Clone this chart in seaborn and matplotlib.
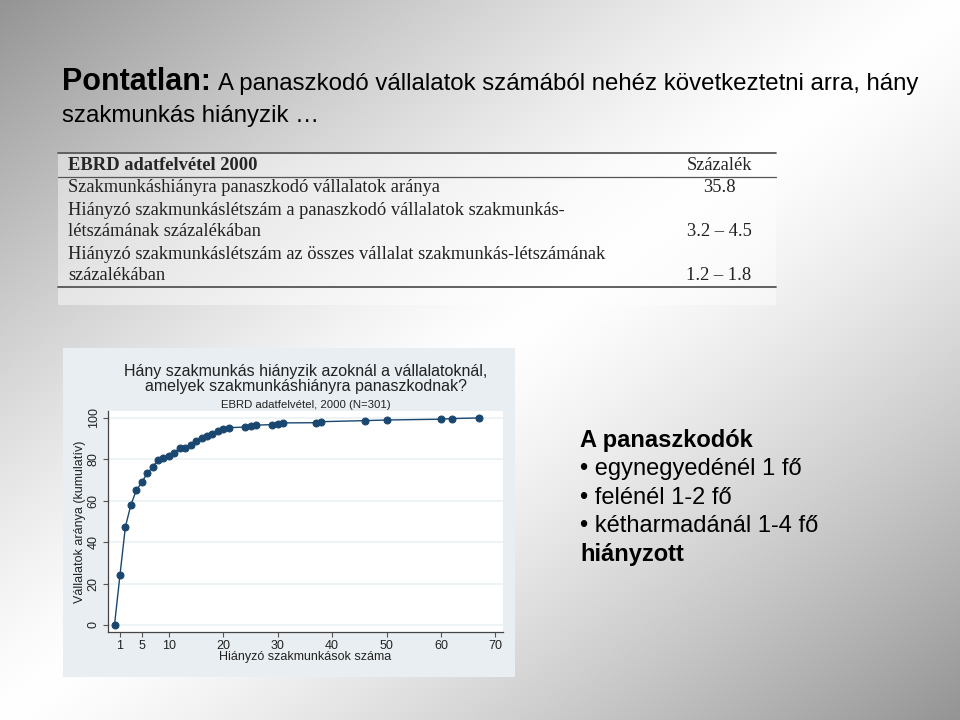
import numpy as np
import pandas as pd
import matplotlib
matplotlib.use("Agg")
import matplotlib.pyplot as plt
import seaborn as sns
from matplotlib.patches import Rectangle
from matplotlib.lines import Line2D

# ---------------- data ----------------
missing_workers = [0, 1, 2, 3, 4, 5, 6, 7, 8, 9, 10, 11, 12, 13, 14, 15, 16, 17, 18, 19, 20, 21,
                   24, 25, 26, 29, 30, 31, 37, 38, 46, 50, 60, 62, 67]
cumulative_share = [0, 24.0, 47.4, 57.9, 65.0, 68.9, 73.2, 76.1, 79.8, 80.5, 81.5, 83.2, 85.5, 85.5,
                    87.1, 88.7, 90.5, 91.3, 92.4, 93.5, 94.5, 95.3, 95.6, 96.1, 96.5, 96.8, 97.3,
                    97.6, 97.7, 98.2, 98.7, 99.0, 99.4, 99.7, 100.0]
x_ticks = [1, 5, 10, 20, 30, 40, 50, 60, 70]
y_ticks = [0, 20, 40, 60, 80, 100]

table_rows = [
    ("Szakmunkáshiányra panaszkodó vállalatok aránya", "35.8"),
    ("Hiányzó szakmunkáslétszám a panaszkodó vállalatok szakmunkás-", ""),
    ("létszámának százalékában", "3.2 – 4.5"),
    ("Hiányzó szakmunkáslétszám az összes vállalat szakmunkás-létszámának", ""),
    ("százalékában", "1.2 – 1.8"),
]
bullets = ["• egynegyedénél 1 fő", "• felénél 1-2 fő", "• kétharmadánál 1-4 fő"]

W, H = 960, 720
sns.set_style("white")
plt.rcParams["font.family"] = ["Liberation Sans", "DejaVu Sans"]

fig = plt.figure(figsize=(W / 100, H / 100), dpi=100)

def fx(px):
    return px / W

def fy(py):
    return 1 - py / H

# ---------------- background gradient ----------------
bg = fig.add_axes([0, 0, 1, 1], zorder=-10)
u = np.linspace(0, 1, W)[None, :]
v = np.linspace(0, 1, H)[:, None]
s = np.abs(u * 1.0 + v * 1.0 - 1.0)
gray = 1.0 - 0.42 * s ** 1.3
img = np.dstack([gray, gray, gray])
bg.imshow(img, aspect="auto", extent=[0, 1, 0, 1], origin="upper")
bg.set_xlim(0, 1)
bg.set_ylim(0, 1)
bg.axis("off")

# ---------------- slide title ----------------
t1 = fig.text(fx(62), fy(82), "Pontatlan:", fontsize=22, fontweight="bold", va="center", ha="left",
              color="black")
fig.canvas.draw()
bb = t1.get_window_extent()
fig.text(fx(bb.x1 + 7), fy(84), "A panaszkodó vállalatok számából nehéz következtetni arra, hány",
         fontsize=17.3, va="center", ha="left", color="black")
fig.text(fx(62), fy(116), "szakmunkás hiányzik …", fontsize=17.3, va="center", ha="left", color="black")

# ---------------- table ----------------
fig.patches.append(Rectangle((fx(58), fy(305)), fx(776 - 58), (305 - 152) / H, transform=fig.transFigure,
                             facecolor="white", alpha=0.45, edgecolor="none", zorder=0))
for ly, lw in [(153, 1.3), (177, 0.9), (287, 1.3)]:
    fig.add_artist(Line2D([fx(58), fx(776)], [fy(ly), fy(ly)], transform=fig.transFigure,
                          color="#555555", lw=lw))
serif = ["Liberation Serif", "DejaVu Serif"]
fs_tab = 13.3
fig.text(fx(68), fy(166), "EBRD adatfelvétel 2000", family=serif, fontsize=fs_tab, fontweight="bold",
         va="center", ha="left")
fig.text(fx(719), fy(166), "Százalék", family=serif, fontsize=fs_tab, va="center", ha="center")
row_y = [187, 210, 231, 254, 275]
for (lab, val), ry in zip(table_rows, row_y):
    fig.text(fx(68), fy(ry), lab, family=serif, fontsize=fs_tab, va="center", ha="left", color="#222222")
    if val:
        fig.text(fx(719), fy(ry), val, family=serif, fontsize=fs_tab, va="center", ha="center",
                 color="#222222")

# ---------------- chart panel ----------------
fig.patches.append(Rectangle((fx(63), fy(677)), fx(515 - 63), (677 - 348) / H, transform=fig.transFigure,
                             facecolor="#e8eef1", edgecolor="none", zorder=0))
ax = fig.add_axes([fx(107.7), fy(632), fx(503 - 107.7), (632 - 410.7) / H], zorder=2)
ax.set_facecolor("white")
df = pd.DataFrame({"x": missing_workers, "y": cumulative_share})
navy = "#1a476f"
sns.lineplot(data=df, x="x", y="y", ax=ax, color=navy, linewidth=1.0, marker="o", markersize=5,
             markeredgecolor=navy, markerfacecolor=navy, zorder=3)
ax.set_xlim(-1.25, 71.4)
ax.set_ylim(-3.4, 103.5)
ax.set_xticks(x_ticks)
ax.set_yticks(y_ticks)
for yt in y_ticks:
    ax.axhline(yt, color="#eaf2f3", lw=1.2, zorder=1)
ax.tick_params(axis="both", direction="out", length=3.8, width=0.8, color="#555555", labelsize=9,
               labelcolor="#222222", pad=2, bottom=True, left=True)
for lbl in ax.get_yticklabels():
    lbl.set_rotation(90)
    lbl.set_va("center")
for side in ["top", "right"]:
    ax.spines[side].set_visible(False)
for side in ["left", "bottom"]:
    ax.spines[side].set_color("#444444")
    ax.spines[side].set_linewidth(0.9)
ax.set_xlabel("Hiányzó szakmunkások száma", fontsize=9, color="#222222", labelpad=-1)
ax.set_ylabel("Vállalatok aránya (kumulatív)", fontsize=9, color="#222222", labelpad=1)

fig.text(fx(306), fy(379), "Hány szakmunkás hiányzik azoknál a vállalatoknál,\namelyek szakmunkáshiányra panaszkodnak?",
         fontsize=11.5, ha="center", va="center", color="#222222", linespacing=1.0)
fig.text(fx(306), fy(405), "EBRD adatfelvétel, 2000 (N=301)", fontsize=8.2, ha="center", va="center",
         color="#222222")

# ---------------- right text box ----------------
fs_box = 17
fig.text(fx(580), fy(440), "A panaszkodók", fontsize=fs_box, fontweight="bold", ha="left", va="center",
         color="black")
for i, b in enumerate(bullets):
    fig.text(fx(580), fy(469 + i * 28.5), b, fontsize=fs_box, ha="left", va="center", color="black")
fig.text(fx(580), fy(554), "hiányzott", fontsize=fs_box, fontweight="bold", ha="left", va="center",
         color="black")

fig.savefig("out.png", dpi=100)
